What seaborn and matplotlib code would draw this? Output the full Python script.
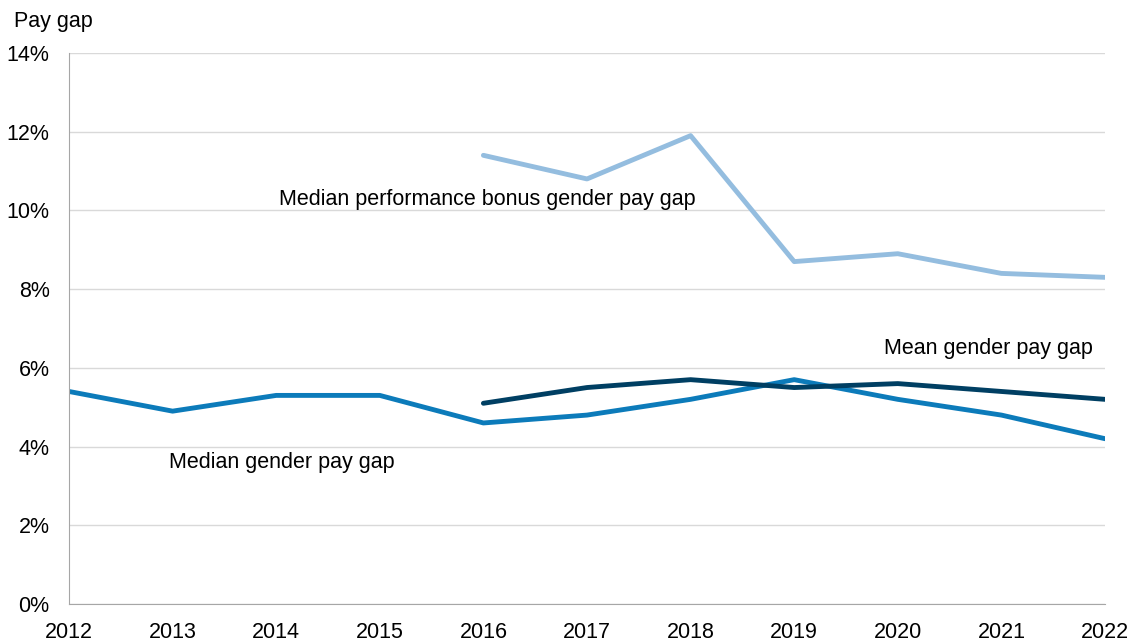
import matplotlib
matplotlib.use("Agg")
import matplotlib.pyplot as plt
import seaborn as sns
import pandas as pd

sns.set_style("white")
plt.rcParams["font.family"] = ["Liberation Sans", "DejaVu Sans"]
plt.rcParams["text.color"] = "black"

years = [2012, 2013, 2014, 2015, 2016, 2017, 2018, 2019, 2020, 2021, 2022]
median_gap = [5.4, 4.9, 5.3, 5.3, 4.6, 4.8, 5.2, 5.7, 5.2, 4.8, 4.2]
mean_years = [2016, 2017, 2018, 2019, 2020, 2021, 2022]
mean_gap = [5.1, 5.5, 5.7, 5.5, 5.6, 5.4, 5.2]
bonus_gap = [11.4, 10.8, 11.9, 8.7, 8.9, 8.4, 8.3]

fs = 15.5

fig = plt.figure(figsize=(11.35, 6.43), dpi=100)
ax = fig.add_axes([69 / 1135, 1 - 604 / 643, (1105 - 69) / 1135, (604 - 53) / 643])

df_med = pd.DataFrame({"year": years, "gap": median_gap})
df_mean = pd.DataFrame({"year": mean_years, "gap": mean_gap})
df_bonus = pd.DataFrame({"year": mean_years, "gap": bonus_gap})

sns.lineplot(data=df_bonus, x="year", y="gap", color="#94bddf", linewidth=3.5, ax=ax)
sns.lineplot(data=df_med, x="year", y="gap", color="#0c7bba", linewidth=3.5, ax=ax)
sns.lineplot(data=df_mean, x="year", y="gap", color="#003f63", linewidth=3.5, ax=ax)

ax.set_xlim(2012, 2022)
ax.set_ylim(0, 14)
ax.set_yticks(range(0, 15, 2))
ax.set_yticklabels([f"{v}%" for v in range(0, 15, 2)])
ax.set_xticks(years)
ax.grid(axis="y", color="#d9d9d9", linewidth=1)
ax.set_axisbelow(True)
for s in ["top", "right"]:
    ax.spines[s].set_visible(False)
ax.spines["left"].set_color("#a6a6a6")
ax.spines["bottom"].set_color("#a6a6a6")
ax.tick_params(axis="both", length=7, color="#a6a6a6", labelsize=fs, labelcolor="black")
ax.tick_params(axis="x", pad=6)
ax.tick_params(axis="y", pad=7)
ax.set_xlabel("")
ax.set_ylabel("")

fig.text(14 / 1135, 1 - 22 / 643, "Pay gap", fontsize=fs, va="center", ha="left")
ax.text(2014.03, 10.27, "Median performance bonus gender pay gap", fontsize=fs, ha="left", va="center")
ax.text(2019.87, 6.5, "Mean gender pay gap", fontsize=fs, ha="left", va="center")
ax.text(2012.97, 3.6, "Median gender pay gap", fontsize=fs, ha="left", va="center")

fig.savefig("out.png", dpi=100)
